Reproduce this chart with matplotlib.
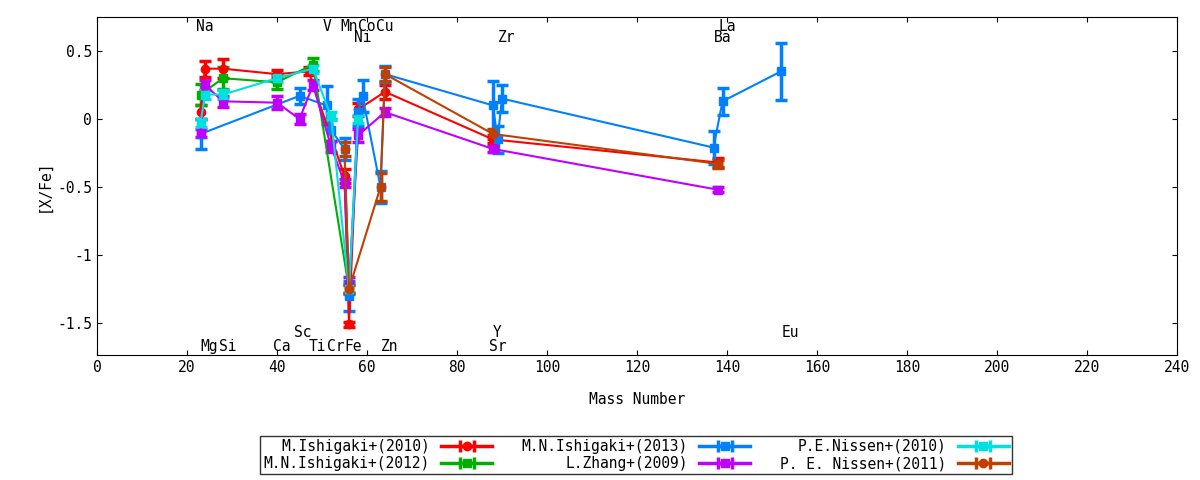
import matplotlib.pyplot as plt

plt.rcParams['font.family'] = ['DejaVu Sans Mono']

# element labels: name, mass position, level
labels_top = [("Na", 24, 0.68), ("V", 51, 0.68), ("Mn", 56, 0.68), ("Co", 60, 0.68),
              ("Cu", 64, 0.68), ("La", 140, 0.68), ("Ni", 59, 0.60), ("Zr", 91, 0.60),
              ("Ba", 139, 0.60)]
labels_bot = [("Sc", 45.8, -1.57), ("Y", 89, -1.57), ("Eu", 154, -1.57),
              ("Mg", 25, -1.67), ("Si", 29, -1.67), ("Ca", 41, -1.67), ("Ti", 49, -1.67),
              ("Cr", 53, -1.67), ("Fe", 57, -1.67), ("Zn", 65, -1.67), ("Sr", 89, -1.67)]

ish10_x = [23, 24, 28, 40, 47, 55, 56, 58, 64, 88, 138]
ish10_y = [0.05, 0.37, 0.37, 0.33, 0.35, -0.42, -1.51, 0.07, 0.20, -0.15, -0.32]
ish10_e = [0.05, 0.06, 0.07, 0.03, 0.03, 0.05, 0.02, 0.05, 0.05, 0.03, 0.03]

ish12_x = [23, 28, 40, 48, 56]
ish12_y = [0.18, 0.30, 0.27, 0.40, -1.25]
ish12_e = [0.08, 0.08, 0.05, 0.05, 0.04]

ish13_x = [23, 45, 51, 52, 55, 56, 58, 59, 63, 64, 88, 89, 90, 137, 139, 152]
ish13_y = [-0.11, 0.17, 0.10, -0.08, -0.22, -1.30, 0.05, 0.17, -0.50, 0.33, 0.10,
           -0.15, 0.15, -0.21, 0.13, 0.35]
ish13_e = [0.11, 0.06, 0.14, 0.08, 0.08, 0.11, 0.10, 0.12, 0.12, 0.06, 0.18,
           0.10, 0.10, 0.12, 0.10, 0.21]

zhang_x = [23, 24, 28, 40, 45, 48, 52, 55, 56, 58, 64, 88, 138]
zhang_y = [-0.10, 0.25, 0.13, 0.12, 0.00, 0.25, -0.20, -0.47, -1.22, -0.12, 0.05, -0.22, -0.52]
zhang_e = [0.03, 0.04, 0.04, 0.05, 0.04, 0.04, 0.04, 0.03, 0.06, 0.05, 0.03, 0.02, 0.02]

nis10_x = [23, 24, 28, 40, 48, 52, 56, 58]
nis10_y = [-0.03, 0.18, 0.18, 0.30, 0.37, 0.02, -1.25, 0.00]
nis10_e = [0.03, 0.03, 0.03, 0.03, 0.03, 0.03, 0.03, 0.03]

nis11_x = [55, 56, 63, 64, 88, 138]
nis11_y = [-0.22, -1.25, -0.50, 0.33, -0.11, -0.33]
nis11_e = [0.05, 0.03, 0.10, 0.05, 0.04, 0.03]

series = [
    ("M.Ishigaki+(2010)", ish10_x, ish10_y, ish10_e, "#ff0000", "o"),
    ("M.N.Ishigaki+(2012)", ish12_x, ish12_y, ish12_e, "#00b000", "s"),
    ("M.N.Ishigaki+(2013)", ish13_x, ish13_y, ish13_e, "#0080ff", "s"),
    ("L.Zhang+(2009)", zhang_x, zhang_y, zhang_e, "#c000ff", "s"),
    ("P.E.Nissen+(2010)", nis10_x, nis10_y, nis10_e, "#00e0e0", "s"),
    ("P. E. Nissen+(2011)", nis11_x, nis11_y, nis11_e, "#c04000", "o"),
]

fig = plt.figure(figsize=(12, 4.8), dpi=100)
ax = fig.add_axes([97/1200, 1-355/480, 1080/1200, 338/480])

handles = []
for name, x, y, e, c, m in series:
    ax.errorbar(x, y, yerr=e, color=c, marker=m, markersize=6, lw=1.5,
                elinewidth=2.5, capsize=4, capthick=2.5)
    # dummy with horizontal error bar, only for the legend key
    h = ax.errorbar([float('nan')], [float('nan')], xerr=[1], color=c, marker=m,
                    markersize=6, lw=2.5, elinewidth=2.5, capsize=4, capthick=2.5,
                    label=name)
    handles.append(h)

for t, x, y in labels_top + labels_bot:
    ax.text(x, y, t, ha='center', va='center', fontsize=10.5)

ax.set_xlim(0, 240)
ax.set_ylim(-1.735, 0.75)
ax.set_xticks(range(0, 241, 20))
ax.set_yticks([0.5, 0, -0.5, -1, -1.5])
ax.set_yticklabels(["0.5", "0", "-0.5", "-1", "-1.5"])
ax.tick_params(direction='in', labelsize=10.5, top=True, right=True)
ax.set_xlabel("Mass Number", fontsize=10.5, labelpad=12)
ax.set_ylabel("[X/Fe]", fontsize=10.5)

leg = fig.legend(handles, [s[0] for s in series], loc='center',
                 bbox_to_anchor=(636/1200, 1-455/480),
                 ncol=3, markerfirst=False, fontsize=10.5, frameon=True, fancybox=False,
                 edgecolor='black', borderpad=0.2, labelspacing=0.15, columnspacing=2,
                 handlelength=3.5)
leg.get_frame().set_linewidth(1)

fig.savefig("out.png", dpi=100)
